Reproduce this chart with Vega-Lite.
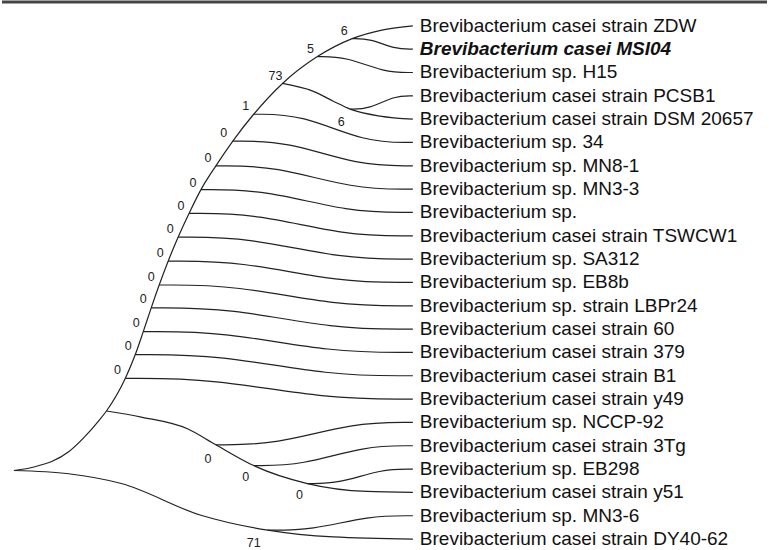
{
  "$schema": "https://vega.github.io/schema/vega-lite/v6.json",
  "autosize": {"type": "fit", "contains": "padding"},
  "width": 769,
  "height": 550,
  "padding": 0,
  "background": "white",
  "config": {"view": {"stroke": null}},
  "datasets": {
    "paths": [
      {"id": "arc", "x": 12, "y": 19.06}, {"id": "arc", "x": 33, "y": 18.9}, {"id": "arc", "x": 67, "y": 18.26},
      {"id": "arc", "x": 83, "y": 17.62}, {"id": "arc", "x": 97, "y": 16.94}, {"id": "arc", "x": 105, "y": 16.51},
      {"id": "arc", "x": 124, "y": 15.11}, {"id": "arc", "x": 134, "y": 14.09}, {"id": "arc", "x": 142, "y": 13.11},
      {"id": "arc", "x": 150, "y": 12.09}, {"id": "arc", "x": 158, "y": 11.11}, {"id": "arc", "x": 167, "y": 10.09},
      {"id": "arc", "x": 177, "y": 9.06}, {"id": "arc", "x": 188, "y": 8.04}, {"id": "arc", "x": 200, "y": 7.02},
      {"id": "arc", "x": 215, "y": 6.0}, {"id": "arc", "x": 232, "y": 4.94}, {"id": "arc", "x": 253, "y": 3.79},
      {"id": "arc", "x": 282, "y": 2.47}, {"id": "arc", "x": 317, "y": 1.32}, {"id": "arc", "x": 352, "y": 0.55},
      {"id": "arc", "x": 383, "y": 0.17}, {"id": "arc", "x": 413, "y": 0},
      {"id": "nccp", "x": 105, "y": 16.51}, {"id": "nccp", "x": 140, "y": 16.77}, {"id": "nccp", "x": 187, "y": 17.28},
      {"id": "nccp", "x": 215, "y": 17.96}, {"id": "nccp", "x": 253, "y": 18.85}, {"id": "nccp", "x": 307, "y": 19.62},
      {"id": "nccp", "x": 367, "y": 19.96}, {"id": "nccp", "x": 413, "y": 20},
      {"id": "low", "x": 12, "y": 19.06}, {"id": "low", "x": 67, "y": 19.2}, {"id": "low", "x": 120, "y": 19.62},
      {"id": "low", "x": 200, "y": 20.98}, {"id": "low", "x": 267, "y": 21.62}, {"id": "low", "x": 333, "y": 21.91},
      {"id": "low", "x": 413, "y": 22},
      {"id": "pcsb", "x": 282, "y": 2.47}, {"id": "pcsb", "x": 313, "y": 2.81}, {"id": "pcsb", "x": 333, "y": 3.23},
      {"id": "pcsb", "x": 350, "y": 3.57}, {"id": "pcsb", "x": 380, "y": 3.87}, {"id": "pcsb", "x": 413, "y": 4}
    ],
    "edges": [
      {"id": "MSI04", "ord": 0, "x": 352, "y": 0.55}, {"id": "MSI04", "ord": 1, "x": 370.3, "y": 0.55}, {"id": "MSI04", "ord": 2, "x": 394.7, "y": 1}, {"id": "MSI04", "ord": 3, "x": 413, "y": 1},
      {"id": "H15", "ord": 0, "x": 317, "y": 1.32}, {"id": "H15", "ord": 1, "x": 345.8, "y": 1.32}, {"id": "H15", "ord": 2, "x": 384.2, "y": 2}, {"id": "H15", "ord": 3, "x": 413, "y": 2},
      {"id": "PCSB1", "ord": 0, "x": 350, "y": 3.57}, {"id": "PCSB1", "ord": 1, "x": 368.9, "y": 3.57}, {"id": "PCSB1", "ord": 2, "x": 394.1, "y": 3}, {"id": "PCSB1", "ord": 3, "x": 413, "y": 3},
      {"id": "sp34", "ord": 0, "x": 253, "y": 3.79}, {"id": "sp34", "ord": 1, "x": 301, "y": 3.79}, {"id": "sp34", "ord": 2, "x": 365, "y": 5}, {"id": "sp34", "ord": 3, "x": 413, "y": 5},
      {"id": "MN8-1", "ord": 0, "x": 232, "y": 4.94}, {"id": "MN8-1", "ord": 1, "x": 286.3, "y": 4.94}, {"id": "MN8-1", "ord": 2, "x": 358.7, "y": 6}, {"id": "MN8-1", "ord": 3, "x": 413, "y": 6},
      {"id": "MN3-3", "ord": 0, "x": 215, "y": 6.0}, {"id": "MN3-3", "ord": 1, "x": 274.4, "y": 6.0}, {"id": "MN3-3", "ord": 2, "x": 353.6, "y": 7}, {"id": "MN3-3", "ord": 3, "x": 413, "y": 7},
      {"id": "sp", "ord": 0, "x": 200, "y": 7.02}, {"id": "sp", "ord": 1, "x": 263.9, "y": 7.02}, {"id": "sp", "ord": 2, "x": 349.1, "y": 8}, {"id": "sp", "ord": 3, "x": 413, "y": 8},
      {"id": "TSWCW1", "ord": 0, "x": 188, "y": 8.04}, {"id": "TSWCW1", "ord": 1, "x": 255.5, "y": 8.04}, {"id": "TSWCW1", "ord": 2, "x": 345.5, "y": 9}, {"id": "TSWCW1", "ord": 3, "x": 413, "y": 9},
      {"id": "SA312", "ord": 0, "x": 177, "y": 9.06}, {"id": "SA312", "ord": 1, "x": 247.8, "y": 9.06}, {"id": "SA312", "ord": 2, "x": 342.2, "y": 10}, {"id": "SA312", "ord": 3, "x": 413, "y": 10},
      {"id": "EB8b", "ord": 0, "x": 167, "y": 10.09}, {"id": "EB8b", "ord": 1, "x": 240.8, "y": 10.09}, {"id": "EB8b", "ord": 2, "x": 339.2, "y": 11}, {"id": "EB8b", "ord": 3, "x": 413, "y": 11},
      {"id": "LBPr24", "ord": 0, "x": 158, "y": 11.11}, {"id": "LBPr24", "ord": 1, "x": 234.5, "y": 11.11}, {"id": "LBPr24", "ord": 2, "x": 336.5, "y": 12}, {"id": "LBPr24", "ord": 3, "x": 413, "y": 12},
      {"id": "s60", "ord": 0, "x": 150, "y": 12.09}, {"id": "s60", "ord": 1, "x": 228.9, "y": 12.09}, {"id": "s60", "ord": 2, "x": 334.1, "y": 13}, {"id": "s60", "ord": 3, "x": 413, "y": 13},
      {"id": "s379", "ord": 0, "x": 142, "y": 13.11}, {"id": "s379", "ord": 1, "x": 223.3, "y": 13.11}, {"id": "s379", "ord": 2, "x": 331.7, "y": 14}, {"id": "s379", "ord": 3, "x": 413, "y": 14},
      {"id": "B1", "ord": 0, "x": 134, "y": 14.09}, {"id": "B1", "ord": 1, "x": 218.4, "y": 14.09}, {"id": "B1", "ord": 2, "x": 329.6, "y": 15}, {"id": "B1", "ord": 3, "x": 413, "y": 15},
      {"id": "y49", "ord": 0, "x": 124, "y": 15.11}, {"id": "y49", "ord": 1, "x": 210.7, "y": 15.11}, {"id": "y49", "ord": 2, "x": 326.3, "y": 16}, {"id": "y49", "ord": 3, "x": 413, "y": 16},
      {"id": "NCCP-92", "ord": 0, "x": 215, "y": 17.96}, {"id": "NCCP-92", "ord": 1, "x": 274.4, "y": 17.96}, {"id": "NCCP-92", "ord": 2, "x": 353.6, "y": 17}, {"id": "NCCP-92", "ord": 3, "x": 413, "y": 17},
      {"id": "3Tg", "ord": 0, "x": 253, "y": 18.85}, {"id": "3Tg", "ord": 1, "x": 301, "y": 18.85}, {"id": "3Tg", "ord": 2, "x": 365, "y": 18}, {"id": "3Tg", "ord": 3, "x": 413, "y": 18},
      {"id": "EB298", "ord": 0, "x": 307, "y": 19.62}, {"id": "EB298", "ord": 1, "x": 338.8, "y": 19.62}, {"id": "EB298", "ord": 2, "x": 381.2, "y": 19}, {"id": "EB298", "ord": 3, "x": 413, "y": 19},
      {"id": "MN3-6", "ord": 0, "x": 267, "y": 21.62}, {"id": "MN3-6", "ord": 1, "x": 310.8, "y": 21.62}, {"id": "MN3-6", "ord": 2, "x": 369.2, "y": 21}, {"id": "MN3-6", "ord": 3, "x": 413, "y": 21}
    ],
    "leaves": [
      {"name": "Brevibacterium casei strain ZDW", "y": 0, "x": 420, "hl": false},
      {"name": "Brevibacterium casei MSI04", "y": 1, "x": 420, "hl": true},
      {"name": "Brevibacterium sp. H15", "y": 2, "x": 420, "hl": false},
      {"name": "Brevibacterium casei strain PCSB1", "y": 3, "x": 420, "hl": false},
      {"name": "Brevibacterium casei strain DSM 20657", "y": 4, "x": 420, "hl": false},
      {"name": "Brevibacterium sp. 34", "y": 5, "x": 420, "hl": false},
      {"name": "Brevibacterium sp. MN8-1", "y": 6, "x": 420, "hl": false},
      {"name": "Brevibacterium sp. MN3-3", "y": 7, "x": 420, "hl": false},
      {"name": "Brevibacterium sp.", "y": 8, "x": 420, "hl": false},
      {"name": "Brevibacterium casei strain TSWCW1", "y": 9, "x": 420, "hl": false},
      {"name": "Brevibacterium sp. SA312", "y": 10, "x": 420, "hl": false},
      {"name": "Brevibacterium sp. EB8b", "y": 11, "x": 420, "hl": false},
      {"name": "Brevibacterium sp. strain LBPr24", "y": 12, "x": 420, "hl": false},
      {"name": "Brevibacterium casei strain 60", "y": 13, "x": 420, "hl": false},
      {"name": "Brevibacterium casei strain 379", "y": 14, "x": 420, "hl": false},
      {"name": "Brevibacterium casei strain B1", "y": 15, "x": 420, "hl": false},
      {"name": "Brevibacterium casei strain y49", "y": 16, "x": 420, "hl": false},
      {"name": "Brevibacterium sp. NCCP-92", "y": 17, "x": 420, "hl": false},
      {"name": "Brevibacterium casei strain 3Tg", "y": 18, "x": 420, "hl": false},
      {"name": "Brevibacterium sp. EB298", "y": 19, "x": 420, "hl": false},
      {"name": "Brevibacterium casei strain y51", "y": 20, "x": 420, "hl": false},
      {"name": "Brevibacterium sp. MN3-6", "y": 21, "x": 420, "hl": false},
      {"name": "Brevibacterium casei strain DY40-62", "y": 22, "x": 420, "hl": false}
    ],
    "support": [
      {"v": "6", "x": 344, "y": 0.21}, {"v": "5", "x": 310, "y": 0.98}, {"v": "73", "x": 275, "y": 2.17},
      {"v": "1", "x": 245, "y": 3.45}, {"v": "0", "x": 223, "y": 4.6}, {"v": "0", "x": 207, "y": 5.66},
      {"v": "0", "x": 192, "y": 6.72}, {"v": "0", "x": 180, "y": 7.74}, {"v": "0", "x": 169, "y": 8.72},
      {"v": "0", "x": 159, "y": 9.74}, {"v": "0", "x": 150, "y": 10.77}, {"v": "0", "x": 142, "y": 11.7},
      {"v": "0", "x": 135, "y": 12.72}, {"v": "0", "x": 127, "y": 13.74}, {"v": "0", "x": 116, "y": 14.77},
      {"v": "6", "x": 341, "y": 4.13}, {"v": "0", "x": 207, "y": 18.55}, {"v": "0", "x": 245, "y": 19.36},
      {"v": "0", "x": 299, "y": 20.13}, {"v": "71", "x": 253, "y": 22.17}
    ]
  },
  "encoding": {
    "x": {"field": "x", "type": "quantitative", "axis": null, "scale": {"domain": [0, 769], "nice": false, "zero": false}},
    "y": {"field": "y", "type": "quantitative", "axis": null, "scale": {"domain": [-1.0213, 22.383], "nice": false, "zero": false, "reverse": true}}
  },
  "layer": [
    {
      "data": {"values": [{"x": 0, "x2": 769, "y": -1.0213}]},
      "mark": {"type": "rule", "color": "#444444", "strokeWidth": 3},
      "encoding": {"x2": {"field": "x2"}}
    },
    {
      "data": {"name": "paths"},
      "mark": {"type": "line", "interpolate": "monotone", "color": "#222222", "strokeWidth": 1.2},
      "encoding": {"detail": {"field": "id"}}
    },
    {
      "data": {"name": "edges"},
      "mark": {"type": "line", "interpolate": "basis", "color": "#222222", "strokeWidth": 1.2},
      "encoding": {"detail": {"field": "id"}, "order": {"field": "ord", "type": "quantitative"}}
    },
    {
      "data": {"name": "leaves"},
      "transform": [{"filter": "!datum.hl"}],
      "mark": {"type": "text", "align": "left", "baseline": "middle", "font": "Liberation Sans", "fontSize": 19, "color": "#111111"},
      "encoding": {"text": {"field": "name"}}
    },
    {
      "data": {"name": "leaves"},
      "transform": [{"filter": "datum.hl"}],
      "mark": {"type": "text", "align": "left", "baseline": "middle", "font": "Liberation Sans", "fontSize": 19, "fontWeight": "bold", "fontStyle": "italic", "color": "#111111"},
      "encoding": {"text": {"field": "name"}}
    },
    {
      "data": {"name": "support"},
      "mark": {"type": "text", "align": "center", "baseline": "middle", "font": "Liberation Sans", "fontSize": 12.5, "color": "#222222"},
      "encoding": {"text": {"field": "v"}}
    }
  ]
}
